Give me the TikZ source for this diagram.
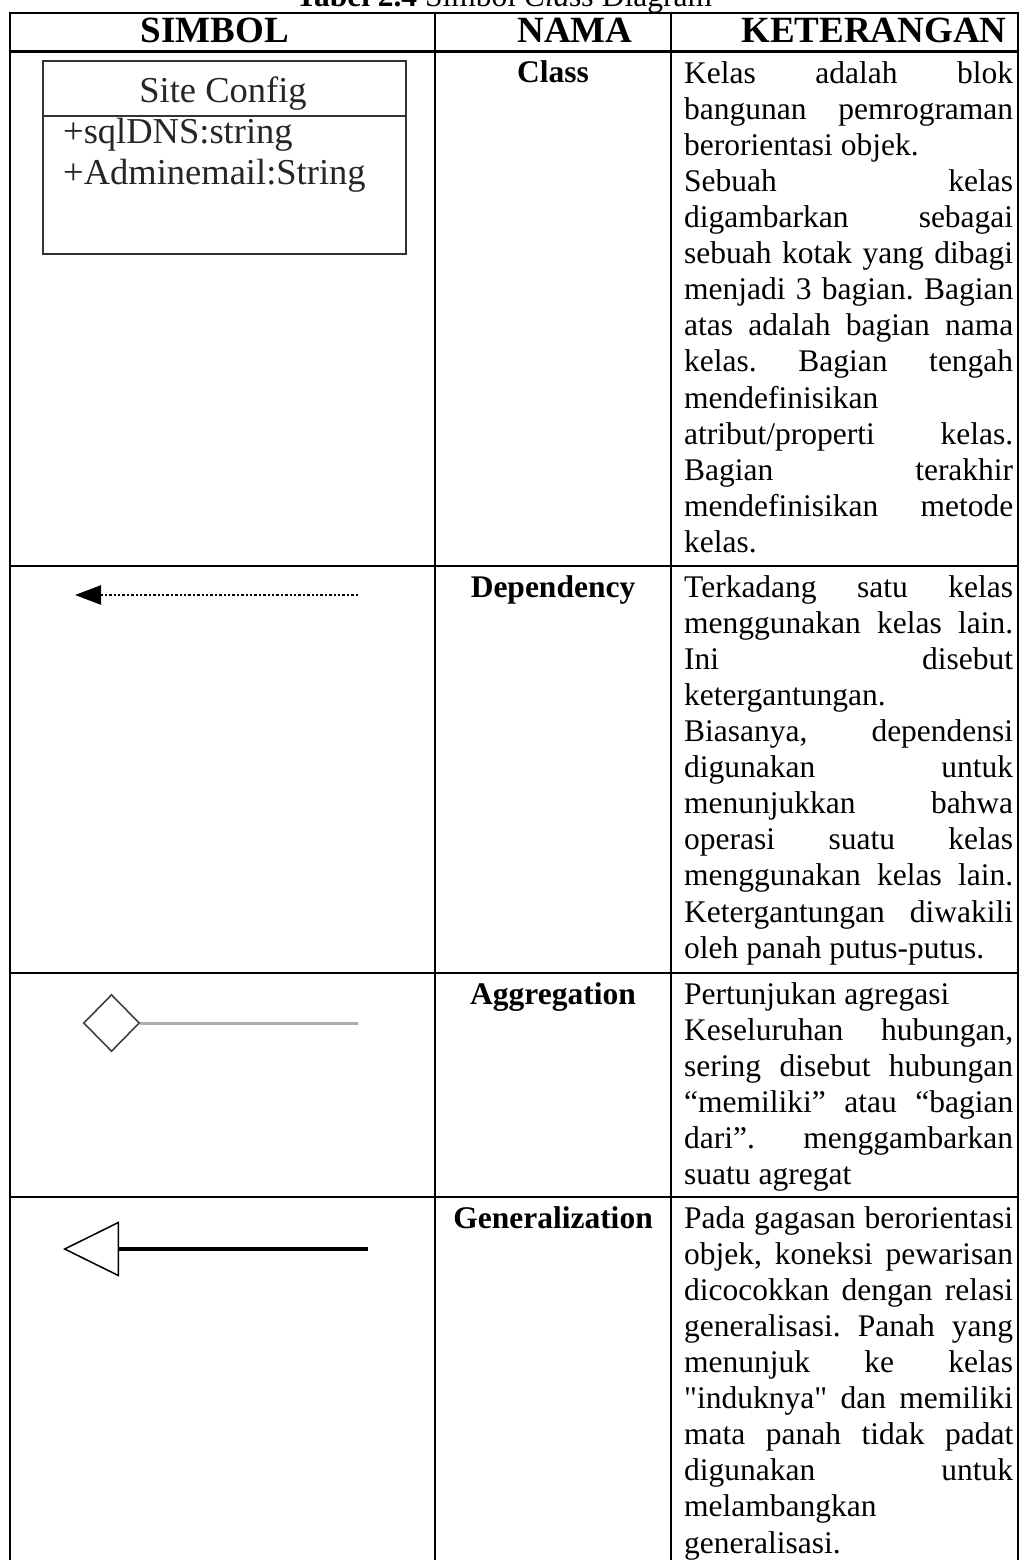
\documentclass[tikz,border=0pt]{standalone}
\usepackage{fontspec}
\setmainfont{Liberation Serif}
\usetikzlibrary{arrows.meta,shapes.geometric}
\frenchspacing

\tikzset{
  tabline/.style={line width=2.8pt, black, line cap=rect},
  headcell/.style={inner sep=0pt, anchor=base, font=\fontsize{37}{40}\selectfont\bfseries},
  namecell/.style={inner sep=0pt, anchor=base, font=\fontsize{31.5}{36}\selectfont\bfseries},
  desc/.style={inner sep=0pt, anchor=north west, text width=329pt, align=justify,
    font={\fontsize{31.5}{36.1}\selectfont\tolerance10000\hbadness10000\hyphenpenalty10000}},
  umltext/.style={inner sep=0pt, text=black!85, font=\fontsize{36.5}{40}\selectfont},
}

\begin{document}
\begin{tikzpicture}[x=1pt,y=-1pt]
\useasboundingbox (0,0) rectangle (1024,1560);

% caption, cut at the top of the page
\node[inner sep=0pt, anchor=base, font=\fontsize{31.5}{36}\selectfont] (title) at (504,7)
  {\textbf{Tabel 2.4} Simbol \textit{Class} Diagram};

% table rules
\foreach \x in {10,435,671,1018}
  \draw[tabline] (\x,13) -- (\x,1600);
\foreach \y in {13,51.5,566,973,1197}
  \draw[tabline] (10,\y) -- (1018,\y);

% header
\node[headcell] (hSimbol) at (215,43) {SIMBOL};
\node[headcell] (hNama) at (575,43) {NAMA};
\node[headcell] (hKet) at (874,43) {KETERANGAN};

% row 1: class
\node[draw=black!80, line width=1.8pt, minimum width=363pt, minimum height=193pt,
  anchor=north west, inner sep=0pt] (cfg) at (42,60) {};
\draw[black!80, line width=1.8pt] ([yshift=-56pt]cfg.north west) -- ([yshift=-56pt]cfg.north east);
\node[umltext, anchor=base] (cfgName) at (223,103) {Site Config};
\node[umltext, anchor=base west] (cfgAttrA) at (63,143) {+sqlDNS:string};
\node[umltext, anchor=base west] (cfgAttrB) at (63,184) {+Adminemail:String};

\node[namecell] (nClass) at (553,83) {Class};
\node[desc] (dClass) at (684,57.7) {\strut Kelas adalah blok\linebreak
bangunan pemrograman\linebreak
berorientasi objek.\newline
Sebuah kelas\linebreak
digambarkan sebagai\linebreak
sebuah kotak yang dibagi\linebreak
menjadi 3 bagian. Bagian\linebreak
atas adalah bagian nama\linebreak
kelas. Bagian tengah\linebreak
mendefinisikan\newline
atribut/properti kelas.\linebreak
Bagian terakhir\linebreak
mendefinisikan metode\linebreak
kelas.};

% row 2: dependency
\coordinate (depTip) at (75,595);
\coordinate (depEnd) at (358,595);
\draw[line width=2.6pt, dash pattern=on 2.4pt off 2pt, -{Triangle[length=26pt,width=19pt]}] (depEnd) -- (depTip);

\node[namecell] (nDep) at (553,597) {Dependency};
\node[desc] (dDep) at (684,571.7) {\strut Terkadang satu kelas\linebreak
menggunakan kelas lain.\linebreak
Ini disebut\linebreak
ketergantungan.\newline
Biasanya, dependensi\linebreak
digunakan untuk\linebreak
menunjukkan bahwa\linebreak
operasi suatu kelas\linebreak
menggunakan kelas lain.\linebreak
Ketergantungan diwakili\linebreak
oleh panah putus-putus.};

% row 3: aggregation
\node[diamond, draw=black!75, line width=1.6pt, minimum width=56pt, minimum height=57pt, inner sep=0pt] (dia) at (111.5,1023) {};
\coordinate (aggEnd) at (358,1023);
\draw[black!32, line width=3pt] (dia.east) -- (aggEnd);

\node[namecell] (nAgg) at (553,1004) {Aggregation};
\node[desc] (dAgg) at (684,978.7) {\strut Pertunjukan agregasi\newline
Keseluruhan hubungan,\linebreak
sering disebut hubungan\linebreak
“memiliki” atau “bagian\linebreak
dari”. menggambarkan\linebreak
suatu agregat};

% row 4: generalization
\coordinate (genTip) at (63,1249);
\coordinate (genEnd) at (368,1249);
\draw[line width=4pt, -{Triangle[open, length=56pt, width=55pt, line width=1.5pt]}] (genEnd) -- (genTip);

\node[namecell] (nGen) at (553,1228) {Generalization};
\node[desc] (dGen) at (684,1202.7) {\strut Pada gagasan berorientasi\linebreak
objek, koneksi pewarisan\linebreak
dicocokkan dengan relasi\linebreak
generalisasi. Panah yang\linebreak
menunjuk ke kelas\linebreak
\textquotedbl induknya\textquotedbl{} dan memiliki\linebreak
mata panah tidak padat\linebreak
digunakan untuk\linebreak
melambangkan\newline
generalisasi.};
\end{tikzpicture}
\end{document}
